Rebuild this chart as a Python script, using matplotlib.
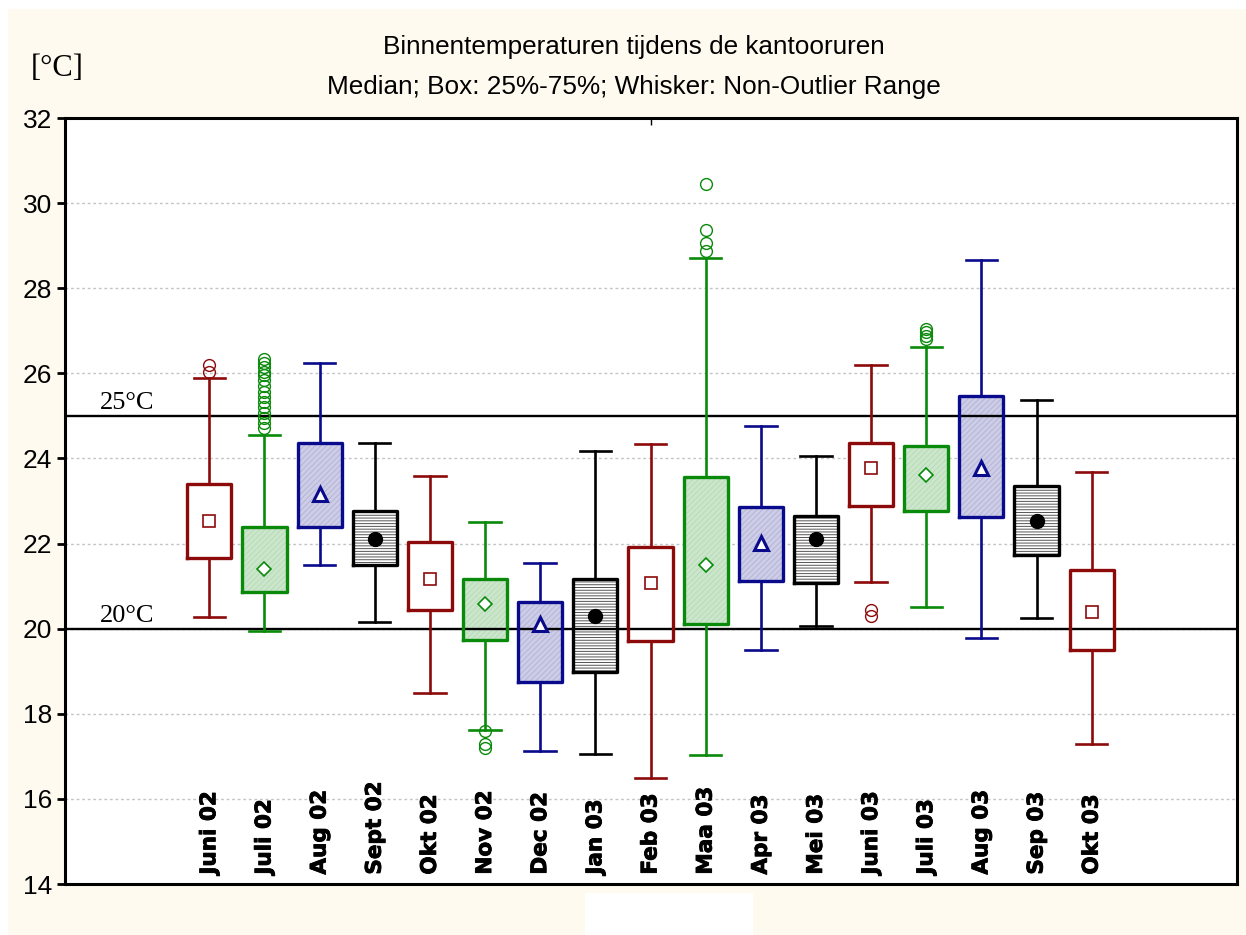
import numpy as np
import matplotlib.pyplot as plt
import matplotlib.patheffects as pe
from matplotlib.patches import Rectangle

MONTHS = ['Juni 02', 'Juli 02', 'Aug 02', 'Sept 02', 'Okt 02', 'Nov 02', 'Dec 02',
          'Jan 03', 'Feb 03', 'Maa 03', 'Apr 03', 'Mei 03', 'Juni 03', 'Juli 03',
          'Aug 03', 'Sep 03', 'Okt 03']

MEDIANS = [22.54, 21.40, 23.17, 22.10, 21.17, 20.57, 20.10, 20.29, 21.08, 21.50,
           22.01, 22.10, 23.78, 23.60, 23.77, 22.54, 20.39]
Q1 = [21.67, 20.87, 22.39, 21.49, 20.45, 19.74, 18.75, 18.98, 19.71, 20.12,
      21.13, 21.07, 22.88, 22.76, 22.62, 21.72, 19.49]
Q3 = [23.39, 22.39, 24.36, 22.76, 22.03, 21.16, 20.62, 21.16, 21.91, 23.57,
      22.86, 22.64, 24.37, 24.30, 25.46, 23.36, 21.38]
WHIS_LO = [20.27, 19.95, 21.49, 20.15, 18.49, 17.61, 17.12, 17.06, 16.50, 17.02,
           19.51, 20.07, 21.09, 20.51, 19.77, 20.25, 17.29]
WHIS_HI = [25.88, 24.56, 26.24, 24.36, 23.58, 22.50, 21.55, 24.18, 24.34, 28.70,
           24.76, 24.05, 26.20, 26.63, 28.66, 25.37, 23.69]
OUTLIERS = [
    [26.03, 26.19],
    [26.33, 26.24, 26.14, 26.02, 25.96, 25.85, 25.70, 25.57, 25.45, 25.33,
     25.20, 25.06, 24.94, 24.83, 24.72],
    [], [], [],
    [17.59, 17.30, 17.20],
    [], [], [],
    [30.45, 29.37, 29.07, 28.88],
    [], [],
    [20.45, 20.29],
    [27.05, 26.96, 26.88, 26.81],
    [], [], [],
]

LIMITS = [20, 25]

# four box styles repeating month after month
STYLES = [
    dict(color='#8c0a0a', fill='white', hatch=None, hcolor='white',
         marker='s', mface='white', msize=8, mew=1.2),
    dict(color='#0a8a0a', fill='#cce6cc', hatch='//////', hcolor='#b8dbb8',
         marker='D', mface='white', msize=7, mew=1.2),
    dict(color='#0a0a8c', fill='#cdcde8', hatch='//////', hcolor='#b5b5d6',
         marker='^', mface='white', msize=9.5, mew=2.2),
    dict(color='black', fill='white', hatch='------', hcolor='#555555',
         marker='o', mface='black', msize=10, mew=1),
]

plt.rcParams['hatch.linewidth'] = 0.7

W, H = 1246, 935
fig = plt.figure(figsize=(W / 100, H / 100), dpi=100)
fig.patch.set_facecolor('white')
fig.add_artist(Rectangle((8 / W, 0), 1, (H - 9) / H, transform=fig.transFigure,
                         facecolor='#fffaf0', edgecolor='none', zorder=0))
fig.add_artist(Rectangle((585 / W, 0), 168 / W, 42 / H, transform=fig.transFigure,
                         facecolor='white', edgecolor='none', zorder=0))

ax = fig.add_axes([65 / W, 51 / H, 1172 / W, 766 / H])
ax.set_facecolor('white')

pos = np.arange(1, len(MONTHS) + 1)
med = np.array(MEDIANS)
q1 = np.array(Q1)
q3 = np.array(Q3)

stats = []
for i in range(len(MONTHS)):
    stats.append(dict(med=MEDIANS[i], q1=Q1[i], q3=Q3[i], whislo=WHIS_LO[i],
                      whishi=WHIS_HI[i], fliers=np.array(OUTLIERS[i])))

for g, st in enumerate(STYLES):
    idx = np.arange(g, len(MONTHS), 4)
    c = st['color']
    ax.bar(pos[idx], q3[idx] - q1[idx], bottom=q1[idx], width=0.8,
           color=st['fill'], hatch=st['hatch'], edgecolor=st['hcolor'],
           linewidth=0, zorder=2)
    ax.bxp([stats[i] for i in idx], positions=pos[idx], widths=0.8, capwidths=0.57,
           boxprops=dict(color=c, lw=2.4),
           whiskerprops=dict(color=c, lw=1.9),
           capprops=dict(color=c, lw=1.9),
           medianprops=dict(lw=0),
           flierprops=dict(marker='o', markerfacecolor='none', markeredgecolor=c,
                           markersize=8.5, markeredgewidth=1, linestyle='none'),
           manage_ticks=False, zorder=3)
    ax.plot(pos[idx], med[idx], linestyle='none', marker=st['marker'],
            markerfacecolor=st['mface'], markeredgecolor=c,
            markersize=st['msize'], markeredgewidth=st['mew'], zorder=4)

for lim in LIMITS:
    ax.axhline(lim, color='black', lw=1.7, zorder=2.5)
    ax.annotate(f'{lim}°C', xy=(0, lim), xycoords=('axes fraction', 'data'),
                xytext=(25, 5), textcoords='offset points', ha='left', va='baseline',
                fontsize=19, family='Liberation Serif')

for p, m in zip(pos, MONTHS):
    ax.text(p, 14.22, m, rotation=90, ha='center', va='bottom',
            fontsize=15.5, fontweight='bold', family='DejaVu Sans',
            path_effects=[pe.withStroke(linewidth=0.6, foreground='black')])

ax.set_xlim(-1.617, 19.635)
ax.set_ylim(14, 32)
ax.set_yticks(np.arange(14, 33, 2))
ax.set_xticks([9])
ax.set_xticklabels([])
ax.tick_params(axis='x', bottom=False, top=True, direction='in', length=5, width=1)
ax.tick_params(axis='y', direction='out', length=6, width=2, labelsize=19, pad=3)
for lab in ax.get_yticklabels():
    lab.set_family('Liberation Sans')
ax.yaxis.grid(True, linestyle=(0, (2, 2)), color='#c4c4c4', lw=1, zorder=0)
ax.set_axisbelow(True)
for s in ax.spines.values():
    s.set_linewidth(2.2)

fig.text(634 / W, 1 - 47 / H, 'Binnentemperaturen tijdens de kantooruren',
         ha='center', va='center', fontsize=18.8, family='Liberation Sans')
fig.text(634 / W, 1 - 87 / H, 'Median; Box: 25%-75%; Whisker: Non-Outlier Range',
         ha='center', va='center', fontsize=18.8, family='Liberation Sans')
fig.text(57 / W, 1 - 69 / H, '[°C]', ha='center', va='center',
         fontsize=22, family='Liberation Serif')

fig.savefig('out.png', dpi=100)
